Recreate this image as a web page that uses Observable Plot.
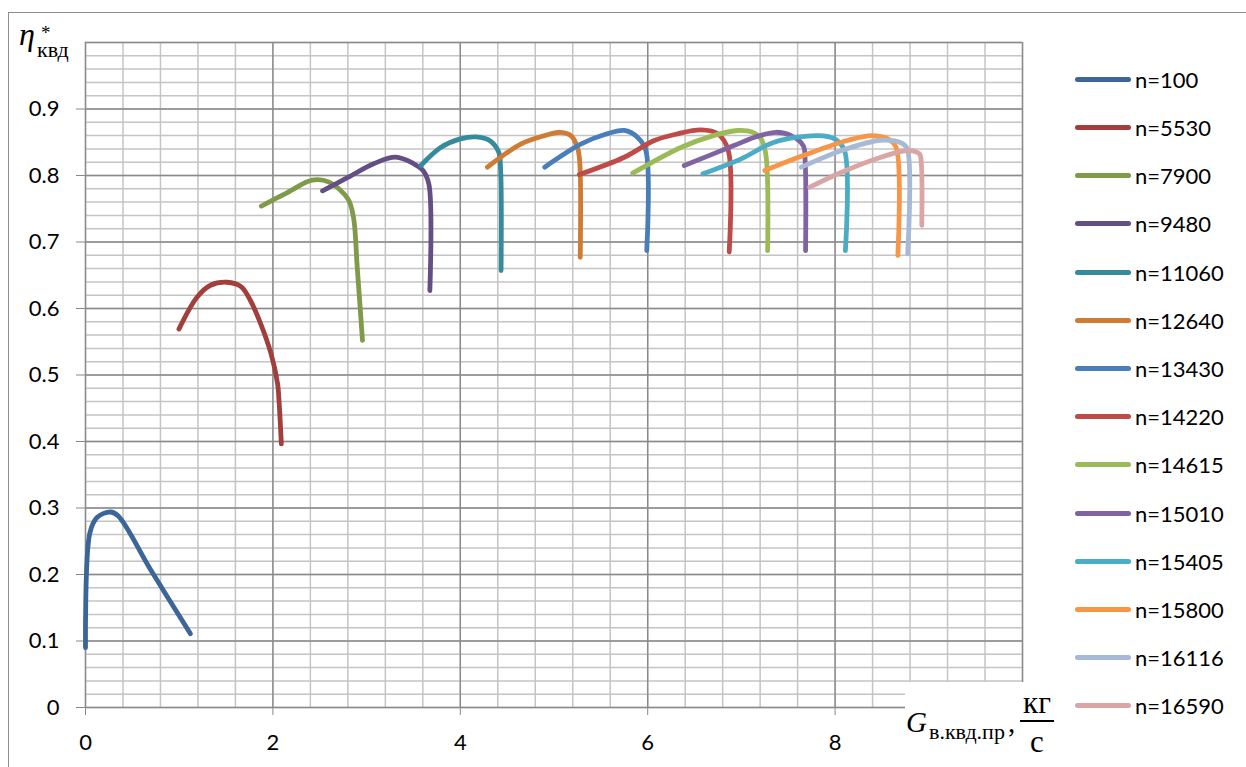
<!DOCTYPE html>
<html>
<head>
<meta charset="utf-8">
<script src="https://cdn.jsdelivr.net/npm/d3@7"></script>
<script src="https://cdn.jsdelivr.net/npm/@observablehq/plot@0.6"></script>
<style>
  html, body { margin: 0; padding: 0; background: #fff; }
  #wrap { position: relative; width: 1246px; height: 767px; overflow: hidden; background: #fff; }
  #wrap svg { position: absolute; left: 0; top: 0; }
  g[aria-label="x-axis tick"], g[aria-label="y-axis tick"] { stroke: #878787; }
  .tick line { stroke: #878787; }
  .abs { position: absolute; white-space: nowrap; line-height: 1; }
  .serif { font-family: "Liberation Serif", "DejaVu Serif", serif; color: #000; }
  .leg { position: absolute; left: 1075px; height: 26px; display: flex; align-items: center;
         font-family: Lato, "Open Sans", sans-serif; font-size: 22px; color: #000; }
  .leg .sw { width: 56px; height: 5px; border-radius: 2.5px; margin-right: 4px; }
</style>
</head>
<body>
<div id="wrap"></div>
<script>
// ---- data ----
const speeds = [100, 5530, 7900, 9480, 11060, 12640, 13430, 14220, 14615, 15010, 15405, 15800, 16116, 16590];
const colors = ["#3C6699", "#A03F3C", "#7F9A48", "#644F84", "#368A9E", "#D07B33", "#4A7EBB",
                "#BE4B48", "#9BBB59", "#8064A2", "#4BACC6", "#F79646", "#A7B9D5", "#D9A6A5"];

const G_100   = [0.0, 0.046, 0.125, 0.267, 0.35, 0.7, 1.12];
const eta_100 = [0.09, 0.262, 0.286, 0.294, 0.288, 0.206, 0.111];

const G_5530   = [0.997, 1.19, 1.335, 1.51, 1.66, 1.76, 1.87, 1.98, 2.05, 2.065, 2.09];
const eta_5530 = [0.569, 0.617, 0.635, 0.6395, 0.633, 0.612, 0.577, 0.532, 0.487, 0.462, 0.3965];

const G_7900   = [1.877, 2.15, 2.42, 2.6, 2.80, 2.86, 2.90, 2.956];
const eta_7900 = [0.754, 0.774, 0.793, 0.79, 0.765, 0.737, 0.662, 0.552];

const G_9480   = [2.53, 2.8, 3.08, 3.31, 3.50, 3.60, 3.665, 3.675];
const eta_9480 = [0.777, 0.797, 0.818, 0.8275, 0.818, 0.808, 0.787, 0.627];

const G_11060   = [3.58, 3.79, 4.0, 4.17, 4.32, 4.41, 4.43, 4.435];
const eta_11060 = [0.815, 0.842, 0.855, 0.858, 0.852, 0.835, 0.81, 0.657];

const G_12640   = [4.29, 4.65, 4.9, 5.07, 5.18, 5.25, 5.275, 5.28];
const eta_12640 = [0.8125, 0.8475, 0.86, 0.865, 0.86, 0.8425, 0.82, 0.677];

const G_13430   = [4.90, 5.29, 5.55, 5.75, 5.89, 5.98, 5.99];
const eta_13430 = [0.8125, 0.8475, 0.862, 0.8677, 0.8576, 0.8376, 0.687];

const G_14220   = [5.27, 5.75, 6.07, 6.3, 6.57, 6.75, 6.86, 6.87];
const eta_14220 = [0.8015, 0.8275, 0.8526, 0.862, 0.8687, 0.8626, 0.8376, 0.685];

const G_14615   = [5.84, 6.36, 6.7, 6.96, 7.12, 7.21, 7.26, 7.28];
const eta_14615 = [0.8035, 0.8425, 0.86, 0.8677, 0.865, 0.855, 0.8326, 0.687];

const G_15010   = [6.39, 6.92, 7.15, 7.37, 7.53, 7.66, 7.68, 7.685];
const eta_15010 = [0.815, 0.845, 0.858, 0.865, 0.86, 0.845, 0.8226, 0.687];

const G_15405   = [6.59, 6.997, 7.35, 7.82, 7.995, 8.10, 8.11];
const eta_15405 = [0.8025, 0.825, 0.85, 0.86, 0.855, 0.8376, 0.687];

const G_15800   = [7.25, 7.71, 8.14, 8.39, 8.565, 8.65, 8.67];
const eta_15800 = [0.8075, 0.8326, 0.853, 0.86, 0.855, 0.8426, 0.68];

const G_16116   = [7.64, 8.07, 8.49, 8.71, 8.77, 8.775];
const eta_16116 = [0.8125, 0.8376, 0.853, 0.8486, 0.84, 0.682];

const G_16590   = [7.73, 8.07, 8.49, 8.78, 8.90, 8.92, 8.925];
const eta_16590 = [0.7825, 0.805, 0.8275, 0.8376, 0.8326, 0.8175, 0.725];

const xTicks = [0, 2, 4, 6, 8];
const yTicks = [0, 0.1, 0.2, 0.3, 0.4, 0.5, 0.6, 0.7, 0.8, 0.9];
const xMajor = [0, 2, 4, 6, 8, 10];
const yMajor = [0, 0.1, 0.2, 0.3, 0.4, 0.5, 0.6, 0.7, 0.8, 0.9, 1];

// ---- build table ----
const seriesX = [G_100, G_5530, G_7900, G_9480, G_11060, G_12640, G_13430, G_14220, G_14615, G_15010, G_15405, G_15800, G_16116, G_16590];
const seriesY = [eta_100, eta_5530, eta_7900, eta_9480, eta_11060, eta_12640, eta_13430, eta_14220, eta_14615, eta_15010, eta_15405, eta_15800, eta_16116, eta_16590];
const names = speeds.map(n => "n=" + n);
const table = [];
seriesX.forEach((xs, i) => xs.forEach((g, j) => table.push({name: names[i], G: g, eta: seriesY[i][j]})));

const xMinor = d3.range(26).map(k => k * 0.4);
const yMinor = d3.range(51).map(k => k * 0.02);

const chart = Plot.plot({
  width: 1246,
  height: 767,
  marginLeft: 85,
  marginRight: 224,
  marginTop: 42,
  marginBottom: 60,
  style: {fontFamily: "Lato, 'Open Sans', sans-serif", fontSize: "22px", background: "transparent", color: "#000", overflow: "visible"},
  x: {domain: [0, 10], ticks: xTicks, tickSize: 8, tickPadding: 19, tickFormat: d => String(d), label: null},
  y: {domain: [0, 1], ticks: yTicks, tickSize: 9, tickPadding: 17, tickFormat: d => String(d), label: null},
  color: {domain: names, range: colors},
  marks: [
    Plot.ruleX(xMinor, {stroke: "#c4c4c4", strokeWidth: 1.5}),
    Plot.ruleY(yMinor, {stroke: "#c4c4c4", strokeWidth: 1.5}),
    Plot.ruleX(xMajor, {stroke: "#8a8a8a", strokeWidth: 1.4}),
    Plot.ruleY(yMajor, {stroke: "#8a8a8a", strokeWidth: 1.4}),
    Plot.line(table, {x: "G", y: "eta", z: "name", stroke: "name", curve: "catmull-rom",
                      strokeWidth: 4.8, strokeLinecap: "round", strokeLinejoin: "round"})
  ]
});

const wrap = document.getElementById("wrap");
wrap.appendChild(chart);

function add(html) { wrap.insertAdjacentHTML("beforeend", html); }

// outer chart border
add('<div class="abs" style="left:8px;top:12px;width:1400px;height:900px;border:1.3px solid #8c8c8c;"></div>');

// y-axis title  η*квд  (one svg text with tspans)
add('<svg width="120" height="70" style="position:absolute;left:0;top:0;overflow:visible;">' +
    '<text font-family="Liberation Serif, DejaVu Serif, serif" fill="#000">' +
    '<tspan x="19" y="45" font-style="italic" font-size="32">η</tspan>' +
    '<tspan x="41" y="39" font-size="19">*</tspan>' +
    '<tspan x="37" y="57.4" font-size="22">квд</tspan>' +
    '</text></svg>');

// x-axis title box  G в.квд.пр , кг/с
add('<div class="abs" style="left:905px;top:682px;width:155px;height:90px;background:#fff;"></div>');
add('<div class="abs serif" style="left:906px;top:708px;font-size:29px;font-style:italic;">G</div>');
add('<div class="abs serif" style="left:929px;top:721px;font-size:22px;">в.квд.пр</div>');
add('<div class="abs serif" style="left:1008px;top:708px;font-size:29px;">,</div>');
add('<div class="abs serif" style="left:1016px;top:687px;width:42px;text-align:center;font-size:31px;">кг</div>');
add('<div class="abs" style="left:1020px;top:720px;width:34px;height:1.6px;background:#000;"></div>');
add('<div class="abs serif" style="left:1016px;top:726px;width:42px;text-align:center;font-size:31px;">с</div>');

// legend
names.forEach((nm, i) => {
  const cy = 79.3 + i * 48.2;
  add('<div class="leg" style="top:' + (cy - 13) + 'px;"><div class="sw" style="background:' + colors[i] + ';"></div><span>' + nm + '</span></div>');
});
</script>
</body>
</html>
